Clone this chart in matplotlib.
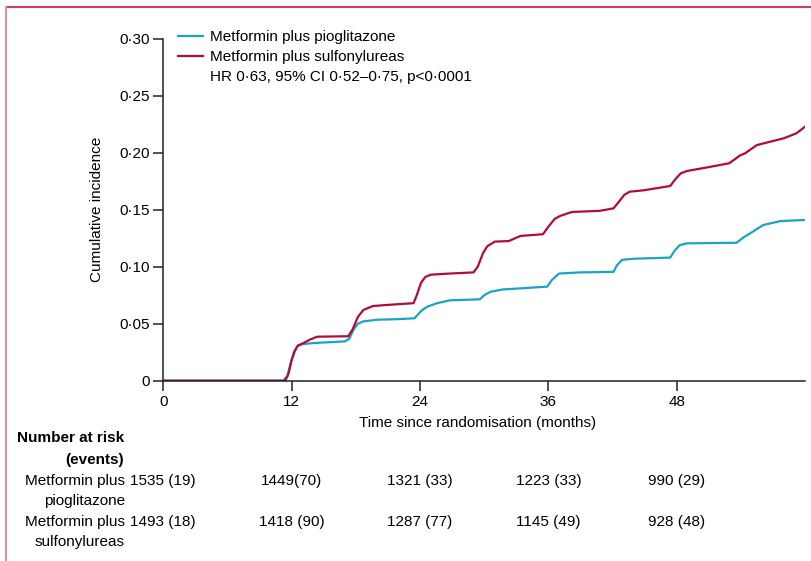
import matplotlib.pyplot as plt
from matplotlib.lines import Line2D
from matplotlib.transforms import blended_transform_factory

plt.rcParams['font.family'] = ['Liberation Sans Narrow', 'DejaVu Sans Condensed', 'Liberation Sans', 'DejaVu Sans']

# 累积发生率曲线
pio_t = [0, 11.2, 11.6, 11.9, 12.2, 12.5, 13.0, 14.0, 16.0, 17.0, 17.4, 17.8, 18.2, 18.7, 20.0, 22.0,
         23.5, 23.8, 24.2, 24.7, 25.6, 26.8, 29.6, 30.0, 30.6, 31.7, 35.9, 36.3, 37.0, 39.0, 42.1,
         42.4, 42.9, 44.0, 47.4, 47.8, 48.3, 49.0, 53.6, 54.3, 55.0, 56.1, 57.7, 60.0]
pio_y = [0, 0, 0.004, 0.015, 0.025, 0.030, 0.032, 0.033, 0.034, 0.0345, 0.037, 0.045, 0.050, 0.052,
         0.0535, 0.054, 0.0548, 0.058, 0.062, 0.065, 0.068, 0.0705, 0.0714, 0.075, 0.078, 0.080,
         0.0825, 0.088, 0.094, 0.095, 0.0955, 0.101, 0.106, 0.107, 0.108, 0.114, 0.119, 0.1205,
         0.121, 0.126, 0.130, 0.1366, 0.140, 0.141]

su_t = [0, 11.4, 11.7, 12.0, 12.3, 12.6, 13.1, 13.7, 14.4, 17.3, 17.7, 18.2, 18.7, 19.6, 21.0, 23.4,
        23.7, 24.1, 24.5, 25.0, 26.8, 29.0, 29.4, 29.9, 30.3, 31.0, 32.3, 33.4, 35.5, 36.0, 36.6,
        37.1, 38.2, 40.8, 42.1, 42.6, 43.1, 43.6, 44.9, 47.4, 47.9, 48.4, 49.0, 50.9, 52.9, 53.4,
        53.9, 54.4, 55.5, 58.0, 59.2, 60.0]
su_y = [0, 0, 0.006, 0.018, 0.026, 0.031, 0.033, 0.036, 0.0386, 0.039, 0.045, 0.056, 0.062, 0.0655,
        0.0665, 0.068, 0.075, 0.086, 0.091, 0.093, 0.094, 0.095, 0.100, 0.112, 0.118, 0.122, 0.1225,
        0.127, 0.1285, 0.135, 0.142, 0.1445, 0.148, 0.149, 0.1512, 0.157, 0.163, 0.1658, 0.167,
        0.1708, 0.177, 0.182, 0.184, 0.1872, 0.1907, 0.194, 0.1975, 0.1995, 0.2067, 0.2126, 0.217,
        0.2228]

x_ticks = [0, 12, 24, 36, 48]
y_ticks = [0, 0.05, 0.10, 0.15, 0.20, 0.25, 0.30]
y_labels = ['0', '0·05', '0·10', '0·15', '0·20', '0·25', '0·30']

risk_pio = ['1535 (19)', '1449(70)', '1321 (33)', '1223 (33)', '990 (29)']
risk_su = ['1493 (18)', '1418 (90)', '1287 (77)', '1145 (49)', '928 (48)']

blue = '#1ba3c6'
red = '#b30a3c'
fs = 11

fig = plt.figure(figsize=(8.11, 5.61), dpi=100)
ax = fig.add_axes([163.3 / 811, 1 - 380.7 / 561, (805 - 163.3) / 811, (380.7 - 38.7) / 561])

ax.plot(pio_t, pio_y, color=blue, lw=1.6)
ax.plot(su_t, su_y, color=red, lw=1.6)

ax.set_xlim(0, 60)
ax.set_ylim(0, 0.30)
ax.set_xticks(x_ticks)
ax.set_xticklabels([str(t) for t in x_ticks])
ax.set_yticks(y_ticks)
ax.set_yticklabels(y_labels)
ax.tick_params(labelsize=fs, length=7, width=1.1, color='#222222', pad=3)
for s in ['top', 'right']:
    ax.spines[s].set_visible(False)
for s in ['left', 'bottom']:
    ax.spines[s].set_linewidth(1.1)
    ax.spines[s].set_color('#222222')
ax.set_ylabel('Cumulative incidence', fontsize=fs, va='center')
ax.yaxis.set_label_coords(-(163.3 - 97) / 641.7, 0.5)
fig.text(478 / 811, 1 - 423 / 561, 'Time since randomisation (months)', fontsize=fs, ha='center', va='center')

# 图例
leg = ax.legend(['Metformin plus pioglitazone', 'Metformin plus sulfonylureas'], loc='upper left',
                bbox_to_anchor=(0.014, 1.042), frameon=False, fontsize=fs, handlelength=1.6,
                handletextpad=0.5, borderaxespad=0, labelspacing=0.38)
fig.text(210 / 811, 1 - 77 / 561, 'HR 0·63, 95% CI 0·52–0·75, p<0·0001', fontsize=fs, va='center')

# 风险人数表
tr = blended_transform_factory(ax.transData, fig.transFigure)
fig.text(124 / 811, 1 - 438 / 561, 'Number at risk', fontsize=fs, fontweight='bold', ha='right', va='center')
fig.text(124 / 811, 1 - 460 / 561, '(events)', fontsize=fs, fontweight='bold', ha='right', va='center')
fig.text(125 / 811, 1 - 481 / 561, 'Metformin plus', fontsize=fs, ha='right', va='center')
fig.text(125 / 811, 1 - 501 / 561, 'pioglitazone', fontsize=fs, ha='right', va='center')
fig.text(125 / 811, 1 - 522 / 561, 'Metformin plus', fontsize=fs, ha='right', va='center')
fig.text(125 / 811, 1 - 542 / 561, 'sulfonylureas', fontsize=fs, ha='right', va='center')
for i, t in enumerate(x_ticks):
    ax.text(t, 1 - 481 / 561, risk_pio[i], transform=tr, fontsize=fs, ha='center', va='center')
    ax.text(t, 1 - 522 / 561, risk_su[i], transform=tr, fontsize=fs, ha='center', va='center')

# 外框线
fig.add_artist(Line2D([6 / 811, 1], [1 - 7 / 561, 1 - 7 / 561], transform=fig.transFigure, color='#c7415f', lw=1.5))
fig.add_artist(Line2D([6 / 811, 6 / 811], [0, 1 - 7 / 561], transform=fig.transFigure, color='#e390a6', lw=1.5))

fig.savefig('out.png', dpi=100)
